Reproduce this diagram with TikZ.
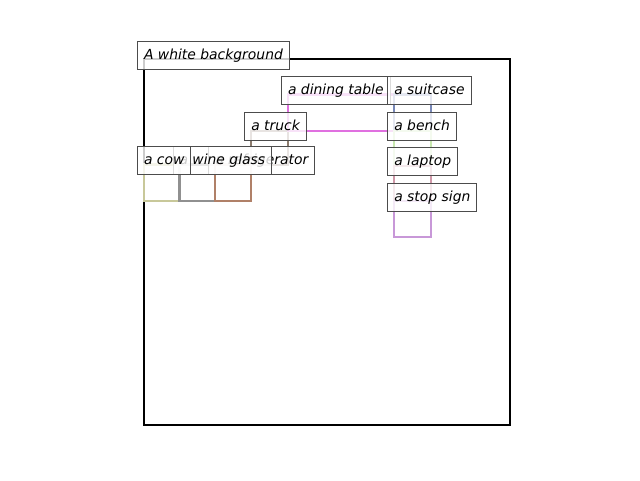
\documentclass[tikz,border=0pt]{standalone}
\usepackage{fontspec}
\setmainfont{DejaVu Sans}
\begin{document}
\begin{tikzpicture}[x=1pt,y=-1pt,
        objbox/.style={line width=2.2pt},
        tag/.style={anchor=base west,xshift=-7pt,draw=black!70,line width=1pt,
            fill=white,fill opacity=0.8,text opacity=1,inner xsep=6.5pt,inner ysep=6.5pt,
            text height=11.5pt,text depth=3.5pt,
            font=\fontsize{13.9}{16}\selectfont\itshape}]
    \useasboundingbox (0,0) rectangle (640,480);
    \definecolor{cowcol}{HTML}{C8C89A}
    \definecolor{glasscol}{HTML}{909090}
    \definecolor{fridgecol}{HTML}{B08068}
    \definecolor{truckcol}{HTML}{8C7C6E}
    \definecolor{tablecol}{HTML}{E070E0}
    \definecolor{suitcasecol}{HTML}{7888B8}
    \definecolor{benchcol}{HTML}{C8E8B0}
    \definecolor{laptopcol}{HTML}{D098A8}
    \definecolor{stopcol}{HTML}{C898D8}
    % boxes
    \draw[line width=2pt] (144,59) rectangle (510,425);
    \draw[objbox,cowcol] (144,164.5) rectangle (179.5,201);
    \draw[objbox,glasscol] (179.5,164.5) rectangle (215.3,201);
    \draw[objbox,fridgecol] (215.3,164.5) rectangle (251.3,201);
    \draw[objbox,truckcol] (251.3,130.7) rectangle (287.7,165);
    \draw[objbox,tablecol] (288,94.5) rectangle (394.3,130.7);
    \draw[objbox,suitcasecol] (394.3,94.5) rectangle (430.7,130.7);
    \draw[objbox,benchcol] (394.3,130.7) rectangle (430.7,165.7);
    \draw[objbox,laptopcol] (394.3,165.7) rectangle (430.7,201.3);
    \draw[objbox,stopcol] (394.3,201.3) rectangle (430.7,236.7);
    % labels
    \node[tag] (bg) at (144,59) {A white background};
    \node[tag] (fridge) at (215.3,164.5) {a refrigerator};
    \node[tag] (glass) at (179.5,164.5) {a wine glass};
    \node[tag] (cow) at (144,164.5) {a cow};
    \node[tag] (truck) at (251.3,130.7) {a truck};
    \node[tag] (table) at (288,94.5) {a dining table};
    \node[tag] (suitcase) at (394.3,94.5) {a suitcase};
    \node[tag] (bench) at (394.3,130.7) {a bench};
    \node[tag] (laptop) at (394.3,165.7) {a laptop};
    \node[tag] (stop) at (394.3,201.3) {a stop sign};
\end{tikzpicture}
\end{document}
